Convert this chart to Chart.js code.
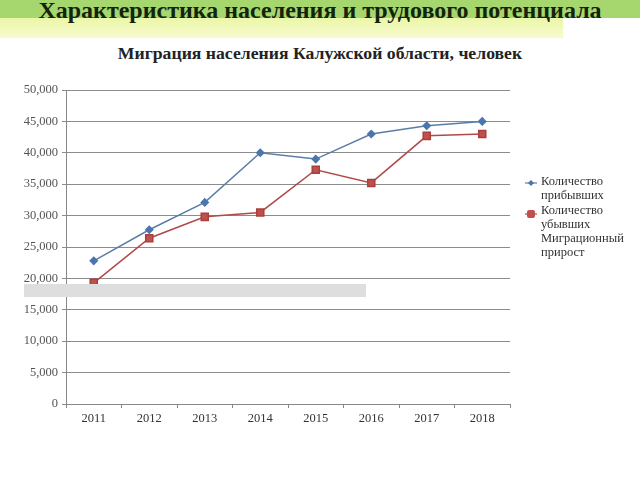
<!DOCTYPE html>
<html>
<head>
<meta charset="utf-8">
<script src="https://cdn.jsdelivr.net/npm/chart.js@4"></script>
<style>
  body { margin: 0; width: 640px; height: 480px; position: relative; background: #fff; overflow: hidden; }
  #band { position: absolute; left: 0; top: 0; width: 640px; height: 18px; background: #a5d76e; }
  #band2 { position: absolute; left: 0; top: 18px; width: 563px; height: 20px;
    background: linear-gradient(to bottom, #eaf6a8, #f9fbcf); }
  #title { position: absolute; left: 0; top: -3px; width: 640px; text-align: center;
    font: bold 24px "Liberation Serif", serif; color: #14240c; }
  #subtitle { position: absolute; left: 0; top: 43px; width: 640px; text-align: center;
    font: bold 17.7px "Liberation Serif", serif; color: #222; }
  #wrap { position: absolute; left: 0; top: 0; width: 640px; height: 480px; }
  #legend { position: absolute; left: 525px; top: 174px; font: 12.5px "Liberation Serif", serif;
    color: #333; line-height: 14.3px; width: 112px; }
  #legend .item { position: relative; padding-left: 16px; }
  #legend .mk { position: absolute; left: 0; top: 6px; }
  #grey { position: absolute; left: 24px; top: 284px; width: 342px; height: 13px; background: #dedede; }
</style>
</head>
<body>
<div id="band"></div>
<div id="band2"></div>
<div id="title">Характеристика населения и трудового потенциала</div>
<div id="subtitle">Миграция населения Калужской области, человек</div>
<div id="wrap"><canvas id="chart" width="640" height="480"></canvas></div>
<div id="legend"></div>
<div id="grey"></div>
<script>
// years on the x axis
const years = ["2011", "2012", "2013", "2014", "2015", "2016", "2017", "2018"];
// people arriving
const arrived = [22800, 27750, 32100, 40000, 39000, 43000, 44300, 45000];
// people leaving
const left = [19300, 26400, 29800, 30500, 37300, 35200, 42700, 43000];
const seriesNames = ["Количество прибывших", "Количество убывших", "Миграционный прирост"];
const legendLines = [["Количество", "прибывших"], ["Количество", "убывших"], ["Миграционный", "прирост"]];

const blue = "#4a75ad";
const red = "#c0504d";

new Chart(document.getElementById("chart"), {
  type: "line",
  data: {
    labels: years,
    datasets: [
      {
        label: seriesNames[0],
        data: arrived,
        borderColor: "#5a7ea8",
        backgroundColor: blue,
        borderWidth: 1.5,
        pointStyle: "rectRot",
        pointRadius: 3.5,
        pointBorderColor: blue,
        tension: 0,
      },
      {
        label: seriesNames[1],
        data: left,
        borderColor: "#b04a48",
        backgroundColor: red,
        borderWidth: 1.5,
        pointStyle: "rect",
        pointRadius: 5,
        pointBorderColor: "#a8403e",
        tension: 0,
      },
    ],
  },
  options: {
    responsive: false,
    animation: false,
    layout: { padding: { left: 0, top: 90, right: 130, bottom: 0 } },
    plugins: { legend: { display: false }, tooltip: { enabled: false } },
    scales: {
      x: {
        offset: true,
        afterFit: (s) => { s.height = 76; },
        grid: { drawOnChartArea: false, offset: true, tickLength: 4, color: "#888" },
        border: { color: "#888", width: 1 },
        ticks: { color: "#333", padding: 3, font: { family: "Liberation Serif", size: 12.5 } },
      },
      y: {
        min: 0,
        max: 50000,
        afterFit: (s) => { s.width = 66; },
        ticks: {
          stepSize: 5000,
          color: "#555",
          padding: 4,
          font: { family: "Liberation Serif", size: 12.5 },
          callback: (v) => v === 0 ? "0" : v.toLocaleString("en-US"),
        },
        grid: { color: "#8c8c8c", tickLength: 4 },
        border: { color: "#888", width: 1 },
      },
    },
  },
});

// html legend, wrapped like the original
const lg = document.getElementById("legend");
legendLines.forEach((lines, i) => {
  const d = document.createElement("div");
  d.className = "item";
  d.innerHTML = lines.join("<br>");
  if (i === 0) {
    d.innerHTML += '<svg class="mk" width="12" height="6" viewBox="0 0 12 6"><line x1="0" y1="3" x2="12" y2="3" stroke="#5a7ea8" stroke-width="1.2"/><polygon points="6,0 9,3 6,6 3,3" fill="' + blue + '"/></svg>';
  } else if (i === 1) {
    d.innerHTML += '<svg class="mk" width="12" height="8" viewBox="0 0 12 8" style="top:7px"><line x1="0" y1="4" x2="12" y2="4" stroke="#b04a48" stroke-width="1.2"/><rect x="2" y="0" width="8" height="8" rx="2" fill="' + red + '"/></svg>';
  }
  lg.appendChild(d);
});
</script>
</body>
</html>
